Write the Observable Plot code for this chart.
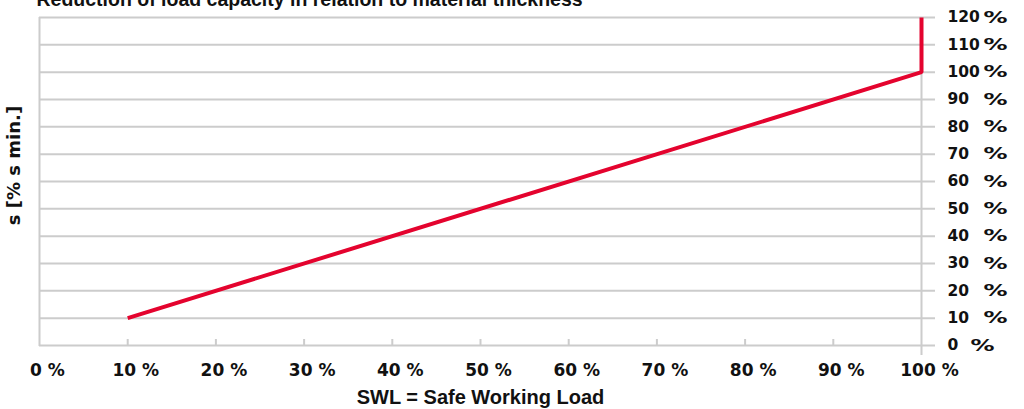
<!DOCTYPE html>
<html>
<head>
<meta charset="utf-8">
<script src="https://cdn.jsdelivr.net/npm/d3@7"></script>
<script src="https://cdn.jsdelivr.net/npm/@observablehq/plot@0.6"></script>
<style>
  html, body { margin: 0; padding: 0; background: #fff; }
  #chart svg { display: block; }
</style>
</head>
<body>
<div id="chart"></div>
<script>
// ---- data ----
const title = "Reduction of load capacity in relation to material thickness";
const xTitle = "SWL = Safe Working Load";
const yTitle = "s [% s min.]";
const swl = [10, 100, 100];        // x: Safe Working Load %
const thickness = [10, 100, 120];  // y: s [% s min.]
const xTicks = [0, 10, 20, 30, 40, 50, 60, 70, 80, 90, 100];
const yTicks = [0, 10, 20, 30, 40, 50, 60, 70, 80, 90, 100, 110, 120];

const points = swl.map((x, i) => ({x, y: thickness[i]}));

const gray = "#cccccc";
const red = "#e4032e";
const tickFont = "DejaVu Sans";
const titleFont = "Liberation Sans";

const chart = Plot.plot({
  width: 1024,
  height: 409,
  marginLeft: 39,
  marginRight: 103,
  marginTop: 17,
  marginBottom: 64,
  style: {background: "#fff", overflow: "visible"},
  x: {domain: [0, 100], axis: null},
  y: {domain: [0, 120], axis: null},
  marks: [
    // horizontal gridlines (including 0 baseline), extending to right ticks
    Plot.ruleY(yTicks, {y: d => d, stroke: gray, strokeWidth: 2, insetRight: -14}),
    // left frame
    Plot.ruleX([0], {x: d => d, y1: 120, y2: 0, stroke: gray, strokeWidth: 2, insetBottom: -1}),
    // right frame, extends below
    Plot.ruleX([100], {x: d => d, y1: 120, y2: 0, stroke: gray, strokeWidth: 2, insetBottom: -10}),
    // inner x ticks going up from baseline
    Plot.ruleX(xTicks.filter(d => d > 0 && d < 100), {x: d => d, y1: 0, y2: 0, stroke: gray, strokeWidth: 2, insetBottom: 6}),
    // the line
    Plot.line(points, {x: "x", y: "y", stroke: red, strokeWidth: 4, strokeLinejoin: "miter", strokeLinecap: "butt"}),
    // x tick labels
    Plot.text(xTicks, {x: d => d, y: 0, text: d => `${d} %`, dy: 30, dx: 8, lineAnchor: "bottom", textAnchor: "middle",
      fontFamily: tickFont, fontWeight: "bold", fontSize: 17, fill: "#111"}),
    // y tick labels: number
    Plot.text(yTicks, {x: 100, y: d => d, text: d => `${d}`, dx: 26, textAnchor: "start",
      fontFamily: tickFont, fontWeight: "bold", fontSize: 15.5, fill: "#111"}),
    // y tick labels: percent sign
    Plot.text(yTicks, {x: 100, y: d => d, text: () => "%", textAnchor: "start",
      fontFamily: tickFont, fontWeight: "bold", fontSize: 16, fill: "#111",
      render: (index, scales, values, dims, context, next) => {
        const g = next(index, scales, values, dims, context);
        d3.select(g).selectAll("text")
          .attr("dx", (_, j) => yTicks[index[j]] === 0 ? 49 : 62)
          .attr("textLength", 24)
          .attr("lengthAdjust", "spacingAndGlyphs");
        return g;
      }}),
    // x axis title
    Plot.text([xTitle], {frameAnchor: "bottom", text: d => d, dy: 58, lineAnchor: "bottom",
      fontFamily: titleFont, fontWeight: "bold", fontSize: 20, fill: "#111"}),
    // y axis title
    Plot.text([yTitle], {frameAnchor: "left", text: d => d, rotate: -90, textAnchor: "middle", dx: -25, dy: -16,
      fontFamily: tickFont, fontWeight: "bold", fontSize: 18, fill: "#111", letterSpacing: 1.5}),
    // chart title
    Plot.text([title], {frameAnchor: "top-left", text: d => d, dx: -3, dy: -12, lineAnchor: "bottom", textAnchor: "start",
      fontFamily: titleFont, fontWeight: "bold", fontSize: 19.5, fill: "#111"})
  ]
});

document.getElementById("chart").appendChild(chart);
</script>
</body>
</html>
